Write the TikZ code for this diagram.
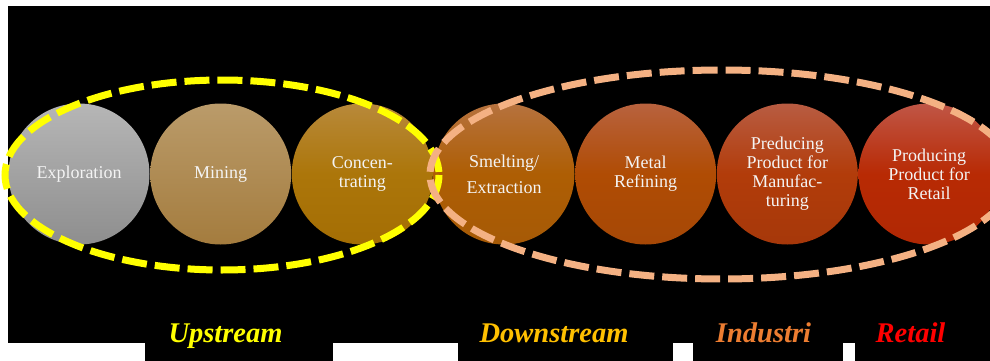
\documentclass[tikz,border=0pt]{standalone}
\usepackage{fontspec}
\setmainfont{Liberation Serif}
\definecolor{ringyellow}{HTML}{FFFF00}
\definecolor{ringpeach}{HTML}{F4B183}
\definecolor{labgold}{HTML}{FFC000}
\definecolor{laborange}{HTML}{ED7D31}
\definecolor{labred}{HTML}{FF0000}
\definecolor{stagetext}{HTML}{F4F4F4}
\begin{document}
\begin{tikzpicture}[x=1pt,y=-1pt,
  stage/.style={circle, minimum size=141pt, inner sep=0pt, text=stagetext,
    align=center, font=\fontsize{18}{19}\selectfont},
  bandlabel/.style={anchor=base, inner sep=0pt,
    font=\fontsize{28.5}{30}\selectfont\bfseries\itshape},
  groupring/.style={line width=7pt, dash pattern=on 25pt off 8pt}]
\useasboundingbox (0,0) rectangle (990,361);
\clip (0,0) rectangle (990,361);

% backdrop: white page with a black panel and tabs along the bottom
\fill[white] (0,0) rectangle (990,361);
\fill[black] (8,6) rectangle (990,343);
\fill[black] (145,343) rectangle (333,361);
\fill[black] (458,343) rectangle (673,361);
\fill[black] (693,343) rectangle (843,361);
\fill[black] (855,343) rectangle (990,361);

% value-chain stages
\node[stage, top color={rgb,255:red,182;green,182;blue,182}, bottom color={rgb,255:red,142;green,142;blue,142}] (explore) at (79,174) {Exploration};
\node[stage, top color={rgb,255:red,186;green,155;blue,106}, bottom color={rgb,255:red,164;green,124;blue,62}] (mine) at (220.7,174) {Mining};
\node[stage, top color={rgb,255:red,184;green,137;blue,58}, bottom color={rgb,255:red,164;green,110;blue,4}, middle color={rgb,255:red,172;green,118;blue,10}] (conc) at (362.3,174) {Concen-\\trating};
\node[stage, top color={rgb,255:red,182;green,114;blue,62}, bottom color={rgb,255:red,166;green,90;blue,6}, middle color={rgb,255:red,174;green,94;blue,4}] (smelt) at (504,174) {Smelting/\\[7pt]Extraction};
\node[stage, top color={rgb,255:red,184;green,98;blue,62}, bottom color={rgb,255:red,166;green,72;blue,6}, middle color={rgb,255:red,176;green,76;blue,4}] (refine) at (645.7,174) {Metal\\Refining};
\node[stage, top color={rgb,255:red,184;green,92;blue,66}, bottom color={rgb,255:red,166;green,56;blue,10}, middle color={rgb,255:red,178;green,60;blue,10}] (manuf) at (787.3,174) {Preducing\\Product for\\Manufac-\\turing};
\node[stage, top color={rgb,255:red,192;green,86;blue,70}, bottom color={rgb,255:red,176;green,40;blue,4}, middle color={rgb,255:red,184;green,42;blue,4}] (retail) at (929,174) {Producing\\Product for\\Retail};

% dashed groupings
\draw[groupring, draw=ringyellow] (222,175) ellipse [x radius=217, y radius=95];
\draw[groupring, draw=ringpeach] (721.5,174.5) ellipse [x radius=291.5, y radius=104.5];

% segment captions
\node[bandlabel, text=ringyellow] (lup) at (225.5,342) {Upstream};
\node[bandlabel, text=labgold] (ldown) at (554,342) {Downstream};
\node[bandlabel, text=laborange] (lind) at (763.5,342) {Industri};
\node[bandlabel, text=labred] (lret) at (910.5,342) {Retail};
\end{tikzpicture}
\end{document}
